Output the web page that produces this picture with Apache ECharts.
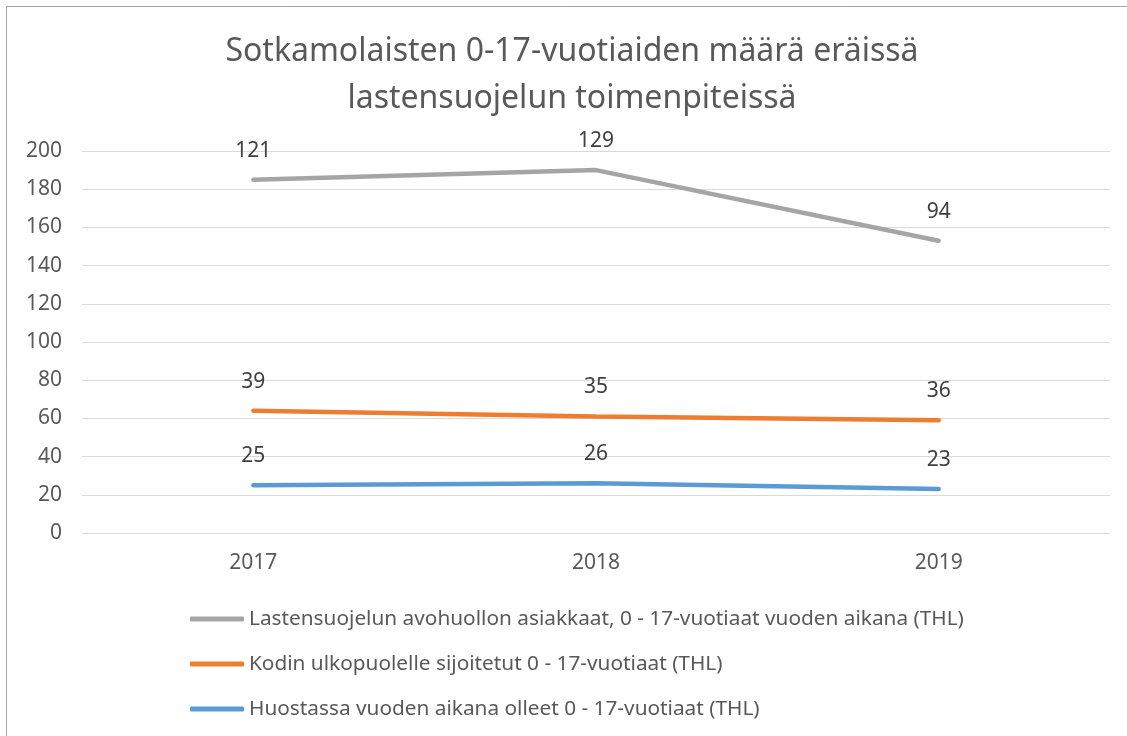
<!doctype html>
<html>
<head>
<meta charset="UTF-8">
<title>Sotkamo lastensuojelu</title>
<script src="https://cdn.jsdelivr.net/npm/echarts@6/dist/echarts.min.js"></script>
<style>
  html, body { margin: 0; padding: 0; background: #fff; }
  #main { width: 1127px; height: 736px; }
</style>
</head>
<body>
<div id="main"></div>
<script>
// vuodet ja arvot (THL)
var years = ['2017', '2018', '2019'];
var avohuolto = [121, 129, 94];
var sijoitetut = [39, 35, 36];
var huostassa = [25, 26, 23];
var yTicks = [0, 20, 40, 60, 80, 100, 120, 140, 160, 180, 200];

var names = [
  'Lastensuojelun avohuollon asiakkaat, 0 - 17-vuotiaat vuoden aikana (THL)',
  'Kodin ulkopuolelle sijoitetut 0 - 17-vuotiaat (THL)',
  'Huostassa vuoden aikana olleet 0 - 17-vuotiaat (THL)'
];

var font = '"Noto Sans", sans-serif';
var chart = echarts.init(document.getElementById('main'));

// pinottu viivakaavio, kuten Excelissä
function lineSeries(name, data, color) {
  return {
    name: name,
    type: 'line',
    stack: 'yht',
    data: data,
    showSymbol: true,
    symbol: 'circle',
    symbolSize: 1,
    lineStyle: { color: color, width: 4.5, cap: 'round' },
    itemStyle: { color: color },
    label: {
      show: true,
      position: 'top',
      distance: 18,
      color: '#404040',
      fontSize: 21,
      fontFamily: font
    },
    emphasis: { disabled: true }
  };
}

var option = {
  animation: false,
  graphic: [{
    type: 'rect',
    shape: { x: 6.5, y: 6.5, width: 1300, height: 900 },
    style: { fill: 'none', stroke: '#a6a6a6', lineWidth: 1 },
    silent: true
  }],
  title: {
    text: 'Sotkamolaisten 0-17-vuotiaiden määrä eräissä\nlastensuojelun toimenpiteissä',
    left: 572,
    top: 28,
    padding: 0,
    textAlign: 'center',
    textStyle: {
      fontFamily: font,
      fontWeight: 'normal',
      fontSize: 32,
      color: '#595959',
      lineHeight: 47
    }
  },
  legend: {
    orient: 'vertical',
    left: 185,
    top: 602,
    icon: 'roundRect',
    itemWidth: 54,
    itemHeight: 5,
    itemGap: 21,
    data: names,
    textStyle: { fontFamily: font, fontSize: 20.8, lineHeight: 24, color: '#595959' }
  },
  grid: { left: 82, right: 17, top: 151, bottom: 203, containLabel: false },
  xAxis: {
    type: 'category',
    data: years,
    boundaryGap: true,
    axisLine: { show: false },
    axisTick: { show: false },
    axisLabel: { color: '#595959', fontSize: 21, fontFamily: font, margin: 20 }
  },
  yAxis: {
    type: 'value',
    min: yTicks[0],
    max: yTicks[yTicks.length - 1],
    interval: 20,
    axisLine: { show: false },
    axisTick: { show: false },
    splitLine: { lineStyle: { color: '#d9d9d9', width: 1 } },
    axisLabel: { color: '#595959', fontSize: 21, fontFamily: font, margin: 20 }
  },
  series: [
    lineSeries(names[2], huostassa, '#5b9bd5'),
    lineSeries(names[1], sijoitetut, '#ed7d31'),
    lineSeries(names[0], avohuolto, '#a5a5a5')
  ]
};
chart.setOption(option);
</script>
</body>
</html>
